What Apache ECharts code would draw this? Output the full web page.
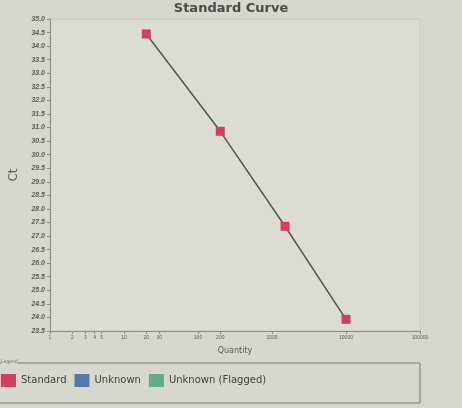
<!DOCTYPE html>
<html>
<head>
<meta charset="utf-8">
<style>
  html, body { margin: 0; padding: 0; background: #d6d7ce; }
  #chart { width: 462px; height: 408px; }
</style>
<script src="https://cdn.jsdelivr.net/npm/echarts@6/dist/echarts.min.js"></script>
</head>
<body>
<div id="chart"></div>
<script>
// standard curve data
const quantities = [20, 200, 1500, 10000]
const ctValues = [34.45, 30.86, 27.36, 23.93]
const xTickValues = [1, 2, 3, 4, 5, 10, 20, 30, 100, 200, 1000, 10000, 100000]
const legendNames = ['Standard', 'Unknown', 'Unknown (Flagged)']
const legendColors = ['#d43f60', '#3263a3', '#3ea374']

const chart = echarts.init(document.getElementById('chart'))

const textColor = '#5a5a58'

chart.setOption({
  backgroundColor: '#d6d7ce',
  animation: false,
  title: {
    text: 'Standard Curve',
    left: 'center',
    top: 0,
    padding: [2, 0, 0, 40],
    textStyle: {
      color: '#4a4a4a',
      fontSize: 13,
      fontWeight: 'bold',
      fontFamily: 'DejaVu Sans'
    }
  },
  grid: {
    left: 50,
    right: 42,
    top: 19,
    bottom: 77,
    show: true,
    backgroundColor: '#dbdcd4',
    borderColor: '#c8c9c0',
    borderWidth: 1
  },
  legend: {
    data: legendNames,
    left: -4,
    top: 369,
    icon: 'rect',
    itemWidth: 15,
    itemHeight: 13,
    itemGap: 8,
    textStyle: {
      color: '#3e3e3e',
      fontSize: 10,
      fontFamily: 'DejaVu Sans'
    }
  },
  graphic: [{
    type: 'rect',
    shape: { x: -2, y: 363, width: 422, height: 40 },
    style: { fill: 'transparent', stroke: '#777', lineWidth: 1 },
    silent: true
  }, {
    type: 'text',
    left: 1,
    top: 359,
    style: { text: 'Legend', fill: '#777', fontSize: 5, backgroundColor: '#d6d7ce' }
  }],
  xAxis: {
    type: 'log',
    logBase: 10,
    min: 1,
    max: 100000,
    name: 'Quantity',
    nameLocation: 'middle',
    nameGap: 16,
    nameTextStyle: { color: textColor, fontSize: 8, fontFamily: 'DejaVu Sans' },
    axisLine: { lineStyle: { color: '#8a8a86' } },
    axisTick: { customValues: xTickValues, length: 3, lineStyle: { color: '#8a8a86' } },
    axisLabel: {
      customValues: xTickValues,
      color: textColor,
      fontSize: 5,
      margin: 4,
      hideOverlap: false,
      formatter: v => String(Math.round(v))
    },
    splitLine: { show: false }
  },
  yAxis: {
    type: 'value',
    min: 23.5,
    max: 35,
    interval: 0.5,
    name: 'Ct',
    nameLocation: 'middle',
    nameGap: 30,
    nameTextStyle: { color: '#606060', fontSize: 12, fontFamily: 'DejaVu Sans' },
    axisLine: { show: true, lineStyle: { color: '#8a8a86' } },
    axisTick: { show: true, length: 3, lineStyle: { color: '#8a8a86' } },
    axisLabel: {
      color: textColor,
      fontSize: 7,
      fontStyle: 'italic',
      fontWeight: 'bold',
      margin: 5,
      formatter: v => v.toFixed(1)
    },
    splitLine: { show: false }
  },
  series: [{
    name: legendNames[0],
    type: 'line',
    data: quantities.map((q, i) => [q, ctValues[i]]),
    symbol: 'rect',
    symbolSize: 9,
    itemStyle: { color: legendColors[0] },
    lineStyle: { color: '#555', width: 1.5 },
    z: 3
  }, {
    name: legendNames[1],
    type: 'scatter',
    data: [],
    itemStyle: { color: legendColors[1] }
  }, {
    name: legendNames[2],
    type: 'scatter',
    data: [],
    itemStyle: { color: legendColors[2] }
  }]
})
</script>
</body>
</html>
